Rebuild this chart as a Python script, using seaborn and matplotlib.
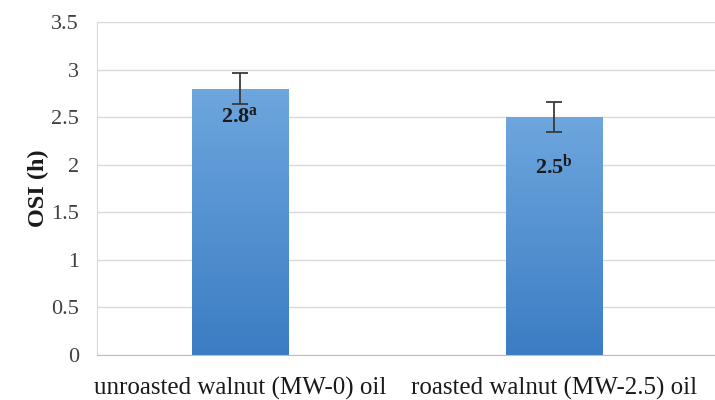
import numpy as np
import pandas as pd
import matplotlib
matplotlib.use('Agg')
import matplotlib.pyplot as plt
import seaborn as sns

samples = ['unroasted walnut (MW-0) oil', 'roasted walnut (MW-2.5) oil']
osi = [2.8, 2.5]
osi_err = [0.16, 0.16]
letters = ['a', 'b']
label_y = [2.45, 1.91]
yticks = [0, 0.5, 1, 1.5, 2, 2.5, 3, 3.5]

sns.set_style('white')
plt.rcParams['font.family'] = ['Liberation Serif', 'DejaVu Serif']
plt.rcParams['mathtext.fontset'] = 'custom'
plt.rcParams['mathtext.rm'] = 'Liberation Serif'
plt.rcParams['mathtext.bf'] = 'Liberation Serif:bold'

df = pd.DataFrame({'sample': samples, 'osi': osi})

fig = plt.figure(figsize=(7.15, 4.0), dpi=100)
ax = fig.add_axes([0.136, 0.1125, 0.864, 0.8325])
sns.barplot(data=df, x='sample', y='osi', color='#5b9bd5', width=0.306,
            errorbar=None, ax=ax, zorder=2)

# vertical gradient fill like the Excel bars
grad = np.linspace(0, 1, 256).reshape(-1, 1)
cmap = matplotlib.colors.LinearSegmentedColormap.from_list('bl', ['#3b7dc3', '#6ea6de'])
for p in ax.patches:
    x0, y0 = p.get_x(), p.get_y()
    w, h = p.get_width(), p.get_height()
    im = ax.imshow(grad, extent=[x0, x0 + w, y0, y0 + h], origin='lower',
                   cmap=cmap, aspect='auto', zorder=2.5)
    im.set_clip_path(p)

ax.errorbar(range(len(samples)), osi, yerr=osi_err, fmt='none', ecolor='#3a3a3a',
            elinewidth=1.3, capsize=6, capthick=1.3, zorder=4)

for i, (yl, lt) in enumerate(zip(label_y, letters)):
    ax.text(i, yl, r'$\mathbf{%.1f^{%s}}$' % (osi[i], lt), ha='center', va='baseline',
            fontsize=16, color='#1a1a1a', zorder=5)

ax.set_xlim(-0.455, 1.513)
ax.set_ylim(0, 3.5)
ax.set_yticks(yticks)
ax.set_yticklabels(['0', '0.5', '1', '1.5', '2', '2.5', '3', '3.5'])
ax.yaxis.grid(True, color='#d9d9d9', linewidth=1, zorder=0)
ax.set_axisbelow(True)
for s in ['top', 'right']:
    ax.spines[s].set_visible(False)
ax.spines['left'].set_color('#d9d9d9')
ax.spines['bottom'].set_color('#bfbfbf')
ax.tick_params(axis='both', length=0, colors='#404040')
ax.tick_params(axis='y', labelsize=16, pad=13)
ax.tick_params(axis='x', labelsize=18, pad=16)
for t in ax.get_xticklabels():
    t.set_color('#1a1a1a')
ax.set_xlabel('')
ax.set_ylabel('OSI (h)', fontsize=17.5, fontweight='bold', color='#1a1a1a', labelpad=2)

fig.savefig('out.png', dpi=100)
